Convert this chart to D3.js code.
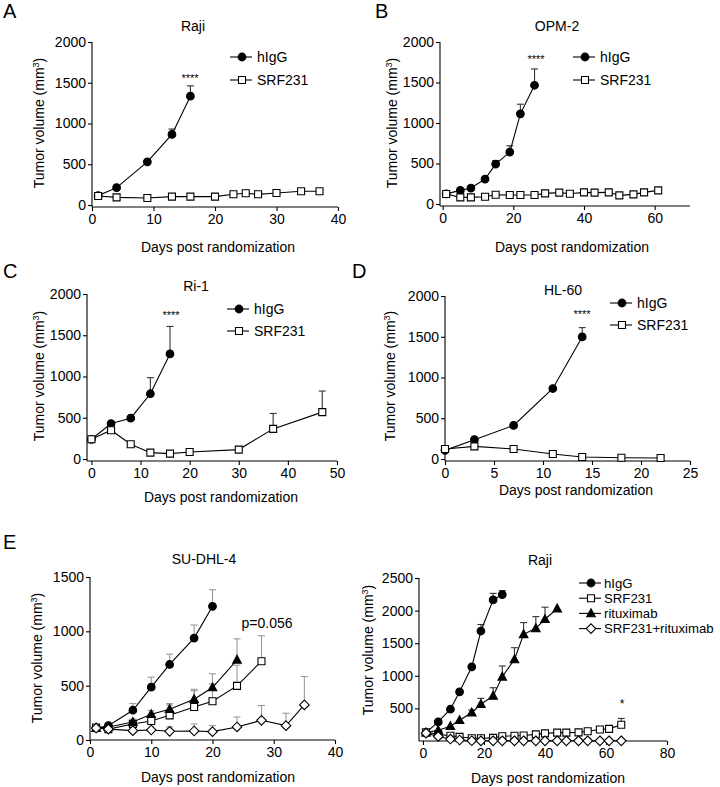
<!DOCTYPE html>
<html><head><meta charset="utf-8">
<script src="https://cdn.jsdelivr.net/npm/d3@7"></script>
<style>body{margin:0;background:#fff} svg{display:block;font-family:"Liberation Sans",Arial,sans-serif}</style>
</head><body><svg id="c" width="720" height="787"></svg>
<script>
// ---------------- DATA ----------------
// Panel A – Raji
const aIgGDays = [1, 4, 9, 13, 16];
const aIgGVals = [115, 213, 530, 866, 1335];
const aIgGSd   = [0, 0, 0, 66, 127];
const aSrfDays = [1, 4, 9, 13, 16, 20, 23, 25, 27, 30, 34, 37];
const aSrfVals = [111, 94, 86, 103, 103, 103, 131, 144, 131, 148, 168, 168];
const aSrfSd   = [0, 0, 0, 0, 0, 0, 0, 0, 0, 0, 0, 0];
// Panel B – OPM-2
const bIgGDays = [1, 5, 8, 12, 15, 19, 22, 26];
const bIgGVals = [125, 168, 197, 308, 493, 641, 1113, 1466];
const bIgGSd   = [0, 0, 0, 0, 42, 78, 119, 201];
const bSrfDays = [1, 5, 8, 12, 15, 19, 22, 26, 29, 33, 36, 40, 43, 47, 50, 54, 57, 61];
const bSrfVals = [123, 82, 82, 90, 115, 111, 111, 111, 131, 140, 127, 144, 140, 144, 107, 119, 144, 168];
const bSrfSd   = [0, 0, 0, 0, 0, 0, 0, 0, 0, 0, 0, 0, 0, 0, 0, 0, 0, 0];
// Panel C – Ri-1
const cIgGDays = [0, 4, 8, 12, 16];
const cIgGVals = [239, 430, 495, 791, 1274];
const cIgGSd   = [0, 0, 0, 195, 333];
const cSrfDays = [0, 4, 8, 12, 16, 20, 30, 37, 47];
const cSrfVals = [240, 349, 178, 77, 65, 85, 114, 365, 568];
const cSrfSd   = [0, 0, 0, 0, 0, 0, 0, 187, 256];
// Panel D – HL-60
const dIgGDays = [0, 3, 7, 11, 14];
const dIgGVals = [106, 237, 412, 865, 1498];
const dIgGSd   = [0, 0, 0, 0, 114];
const dSrfDays = [0, 3, 7, 11, 14, 18, 22];
const dSrfVals = [122, 155, 122, 61, 24, 16, 12];
const dSrfSd   = [0, 0, 0, 0, 0, 0, 0];
// Panel E left – SU-DHL-4
const e1IgGDays = [1, 3, 7, 10, 13, 17, 20];
const e1IgGVals = [108, 132, 274, 486, 695, 938, 1230];
const e1IgGSd   = [0, 0, 61, 92, 95, 120, 153];
const e1SrfDays = [1, 3, 7, 10, 13, 17, 20, 24, 28];
const e1SrfVals = [115, 100, 148, 175, 227, 304, 357, 498, 725];
const e1SrfSd   = [0, 0, 45, 65, 95, 150, 160, 190, 235];
const e1RitDays = [1, 3, 7, 10, 13, 17, 20, 24];
const e1RitVals = [110, 120, 165, 237, 283, 375, 483, 738];
const e1RitSd   = [0, 0, 0, 33, 52, 92, 126, 193];
const e1ComDays = [1, 3, 7, 10, 13, 17, 20, 24, 28, 32, 35];
const e1ComVals = [110, 100, 86, 92, 80, 83, 77, 120, 181, 132, 323];
const e1ComSd   = [0, 0, 62, 50, 40, 65, 55, 92, 136, 114, 261];
// Panel E right – Raji
const e2IgGDays = [1, 5, 9, 12, 16, 19, 23, 26];
const e2IgGVals = [128, 292, 487, 754, 1138, 1687, 2164, 2246];
const e2IgGSd   = [0, 0, 0, 0, 0, 100, 100, 60];
const e2SrfDays = [1, 5, 9, 12, 16, 19, 23, 26, 30, 33, 37, 40, 44, 47, 51, 54, 58, 61, 65];
const e2SrfVals = [133, 101, 80, 64, 43, 43, 48, 74, 80, 85, 101, 117, 128, 128, 133, 149, 176, 186, 250];
const e2SrfSd   = [0, 0, 0, 0, 0, 0, 0, 0, 0, 0, 0, 0, 0, 0, 0, 0, 25, 25, 96];
const e2RitDays = [1, 5, 9, 12, 16, 19, 23, 26, 30, 33, 37, 40, 44];
const e2RitVals = [128, 164, 226, 318, 436, 564, 692, 985, 1251, 1636, 1728, 1867, 2031];
const e2RitSd   = [0, 0, 0, 0, 40, 90, 125, 165, 180, 180, 180, 185, 0];
const e2ComDays = [1, 5, 9, 12, 16, 19, 23, 26, 30, 33, 37, 40, 44, 47, 51, 54, 58, 61, 65];
const e2ComVals = [120, 70, 30, 15, 4, 3, 3, 3, 3, 3, 3, 3, 3, 3, 3, 3, 3, 3, 3];
const e2ComSd   = [0, 0, 0, 0, 0, 0, 0, 0, 0, 0, 0, 0, 0, 0, 0, 0, 0, 0, 0];

const ticks2000 = [0, 500, 1000, 1500, 2000];
const ticks1500 = [0, 500, 1000, 1500];
const ticks2500 = [500, 1000, 1500, 2000, 2500];
const xTicks40 = [0, 10, 20, 30, 40];
const xTicks60 = [0, 20, 40, 60];
const xTicks50 = [0, 10, 20, 30, 40, 50];
const xTicks25 = [0, 5, 10, 15, 20, 25];
const xTicks80 = [0, 20, 40, 60, 80];

const names2 = ["hIgG", "SRF231"];
const names4 = ["hIgG", "SRF231", "rituximab", "SRF231+rituximab"];

function ser(name, shape, days, vals, sd) {
  return { name, shape, pts: days.map((d, i) => ({ d, v: vals[i], sd: sd[i] })) };
}

// ---------------- DRAWING ----------------
const svg = d3.select('#c');
const FONT = 14;

function shapePath(shape) {
  switch (shape) {
    case 'circle': return d3.symbol(d3.symbolCircle, 46)();
    case 'square': return 'M-3.5,-3.5H3.5V3.5H-3.5Z';
    case 'triangle': return 'M0,-4.6L4.3,3.3H-4.3Z';
    case 'diamond': return 'M0,-4.8L4.8,0L0,4.8L-4.8,0Z';
  }
}
const filled = { circle: true, triangle: true, square: false, diamond: false };

function drawMarker(g, shape, cx, cy) {
  g.append('path').attr('d', shapePath(shape))
    .attr('transform', `translate(${cx},${cy})`)
    .attr('fill', filled[shape] ? '#000' : '#fff')
    .attr('stroke', '#000').attr('stroke-width', 1.1);
}

function drawPanel(p) {
  const g = svg.append('g');
  const x = d3.scaleLinear().domain(p.xDomain).range(p.xRange);
  const y = d3.scaleLinear().domain(p.yDomain).range(p.yRange);
  const axisY = y(0) + p.xAxisOffset;
  const axX = p.xRange[0];

  // y axis
  const ya = g.append('g').attr('transform', `translate(${axX},0)`)
    .call(d3.axisLeft(y).tickValues(p.yTicks).tickSize(4).tickPadding(2).tickSizeOuter(0).tickFormat(d3.format('d')));
  ya.select('.domain').remove();
  ya.selectAll('line').attr('stroke', '#000').attr('stroke-width', 1.1);
  ya.selectAll('text').attr('font-size', FONT).attr('fill', '#000').attr('font-family', '"Liberation Sans",Arial,sans-serif');
  g.append('line').attr('x1', axX).attr('x2', axX).attr('y1', y(p.yDomain[1])).attr('y2', axisY)
    .attr('stroke', '#000').attr('stroke-width', 1.1);

  // x axis
  const xa = g.append('g').attr('transform', `translate(0,${axisY})`)
    .call(d3.axisBottom(x).tickValues(p.xTicks).tickSize(4).tickPadding(3).tickSizeOuter(0).tickFormat(d3.format('d')));
  xa.select('.domain').remove();
  xa.selectAll('line').attr('stroke', '#000').attr('stroke-width', 1.1);
  xa.selectAll('text').attr('font-size', FONT).attr('fill', '#000').attr('font-family', '"Liberation Sans",Arial,sans-serif');
  g.append('line').attr('x1', axX).attr('x2', p.xRange[1]).attr('y1', axisY).attr('y2', axisY)
    .attr('stroke', '#000').attr('stroke-width', 1.1);

  // axis titles
  g.append('text').attr('x', p.xTitle[0]).attr('y', p.xTitle[1]).attr('text-anchor', 'middle')
    .attr('font-size', FONT).text('Days post randomization');
  const yt = g.append('text').attr('text-anchor', 'middle').attr('font-size', FONT)
    .attr('transform', `translate(${p.yTitle[0]},${p.yTitle[1]}) rotate(-90)`);
  yt.append('tspan').text('Tumor volume (mm');
  yt.append('tspan').attr('font-size', 9).attr('dy', -5).text('3');
  yt.append('tspan').attr('dy', 5).text(')');

  // chart title
  g.append('text').attr('x', p.title[0]).attr('y', p.title[1]).attr('text-anchor', 'middle')
    .attr('font-size', FONT).text(p.titleText);

  // panel letter
  if (p.letter) g.append('text').attr('x', p.letter[0]).attr('y', p.letter[1]).attr('font-size', 20).text(p.letterText);

  // series
  const line = d3.line().x(d => x(d.d)).y(d => y(d.v));
  p.series.forEach(s => {
    s.pts.filter(pt => pt.sd > 0).forEach(pt => {
      const cx = x(pt.d), top = y(pt.v + pt.sd);
      g.append('line').attr('x1', cx).attr('x2', cx).attr('y1', y(pt.v)).attr('y2', top)
        .attr('stroke', p.errColor).attr('stroke-width', 1.1);
      g.append('line').attr('x1', cx - 3.5).attr('x2', cx + 3.5).attr('y1', top).attr('y2', top)
        .attr('stroke', p.errColor).attr('stroke-width', 1.1);
    });
  });
  p.series.forEach(s => {
    g.append('path').datum(s.pts).attr('d', line).attr('fill', 'none').attr('stroke', '#000').attr('stroke-width', 1.1);
    s.pts.forEach(pt => drawMarker(g, s.shape, x(pt.d), y(pt.v)));
  });

  // annotation
  if (p.note) g.append('text').attr('x', p.note[0]).attr('y', p.note[1]).attr('text-anchor', 'middle')
    .attr('font-size', p.noteSize).attr('fill', '#000').text(p.noteText);

  // legend
  if (p.legend) {
    p.series.forEach((s, i) => {
      const ly = p.legend.y0 + i * p.legend.dy;
      g.append('line').attr('x1', p.legend.x).attr('x2', p.legend.x + 22).attr('y1', ly).attr('y2', ly)
        .attr('stroke', '#000').attr('stroke-width', 1.1);
      drawMarker(g, s.shape, p.legend.x + 12, ly);
      g.append('text').attr('x', p.legend.x + p.legend.tx).attr('y', ly).attr('dy', '0.35em')
        .attr('font-size', p.legend.fs).text(s.name);
    });
  }
}

const panels = [
  { letterText: 'A', letter: [3, 18], titleText: 'Raji', title: [193, 31],
    xDomain: [0, 40], xRange: [92, 338], yDomain: [0, 2000], yRange: [205, 42], xAxisOffset: 2,
    yTicks: ticks2000, xTicks: xTicks40, xTitle: [218, 252], yTitle: [44, 123], errColor: '#333',
    series: [ser(names2[0], 'circle', aIgGDays, aIgGVals, aIgGSd), ser(names2[1], 'square', aSrfDays, aSrfVals, aSrfSd)],
    legend: { x: 230, y0: 57, dy: 23, tx: 27, fs: 14 }, note: [190, 82], noteText: '****', noteSize: 11 },
  { letterText: 'B', letter: [375, 18], titleText: 'OPM-2', title: [557, 31],
    xDomain: [-0.75, 70], xRange: [440, 690], yDomain: [0, 2000], yRange: [204, 42], xAxisOffset: 2,
    yTicks: ticks2000, xTicks: xTicks60, xTitle: [572, 252], yTitle: [397, 123], errColor: '#333',
    series: [ser(names2[0], 'circle', bIgGDays, bIgGVals, bIgGSd), ser(names2[1], 'square', bSrfDays, bSrfVals, bSrfSd)],
    legend: { x: 573, y0: 57, dy: 23, tx: 27, fs: 14 }, note: [536, 63], noteText: '****', noteSize: 11 },
  { letterText: 'C', letter: [3, 278], titleText: 'Ri-1', title: [196, 291],
    xDomain: [-0.9, 50], xRange: [87, 337], yDomain: [0, 2000], yRange: [459, 294], xAxisOffset: 2,
    yTicks: ticks2000, xTicks: xTicks50, xTitle: [221, 502], yTitle: [44, 376], errColor: '#333',
    series: [ser(names2[0], 'circle', cIgGDays, cIgGVals, cIgGSd), ser(names2[1], 'square', cSrfDays, cSrfVals, cSrfSd)],
    legend: { x: 227, y0: 309, dy: 22, tx: 27, fs: 14 }, note: [171, 319], noteText: '****', noteSize: 11 },
  { letterText: 'D', letter: [352, 278], titleText: 'HL-60', title: [563, 295],
    xDomain: [0, 25], xRange: [445, 690], yDomain: [0, 2000], yRange: [459, 296], xAxisOffset: 2,
    yTicks: ticks2000, xTicks: xTicks25, xTitle: [576, 495], yTitle: [395, 376], errColor: '#333',
    series: [ser(names2[0], 'circle', dIgGDays, dIgGVals, dIgGSd), ser(names2[1], 'square', dSrfDays, dSrfVals, dSrfSd)],
    legend: { x: 610, y0: 303, dy: 22, tx: 27, fs: 14 }, note: [582, 318], noteText: '****', noteSize: 11 },
  { letterText: 'E', letter: [3, 549], titleText: 'SU-DHL-4', title: [204, 564],
    xDomain: [0, 40], xRange: [90, 335], yDomain: [0, 1500], yRange: [740, 577], xAxisOffset: 0,
    yTicks: ticks1500, xTicks: xTicks40, xTitle: [218, 782], yTitle: [42, 658], errColor: '#999',
    series: [ser(names4[0], 'circle', e1IgGDays, e1IgGVals, e1IgGSd), ser(names4[1], 'square', e1SrfDays, e1SrfVals, e1SrfSd),
             ser(names4[2], 'triangle', e1RitDays, e1RitVals, e1RitSd), ser(names4[3], 'diamond', e1ComDays, e1ComVals, e1ComSd)],
    legend: null, note: [267, 628], noteText: 'p=0.056', noteSize: 14 },
  { letterText: null, letter: null, titleText: 'Raji', title: [540, 565],
    xDomain: [-1.3, 80], xRange: [419, 667], yDomain: [0, 2500], yRange: [741, 578], xAxisOffset: 0,
    yTicks: ticks2500, xTicks: xTicks80, xTitle: [548, 783], yTitle: [373, 650], errColor: '#333',
    series: [ser(names4[0], 'circle', e2IgGDays, e2IgGVals, e2IgGSd), ser(names4[1], 'square', e2SrfDays, e2SrfVals, e2SrfSd),
             ser(names4[2], 'triangle', e2RitDays, e2RitVals, e2RitSd), ser(names4[3], 'diamond', e2ComDays, e2ComVals, e2ComSd)],
    legend: { x: 579, y0: 583, dy: 15.2, tx: 25, fs: 13.2 }, note: [622, 708], noteText: '*', noteSize: 12 }
];
panels.forEach(drawPanel);
</script></body></html>
